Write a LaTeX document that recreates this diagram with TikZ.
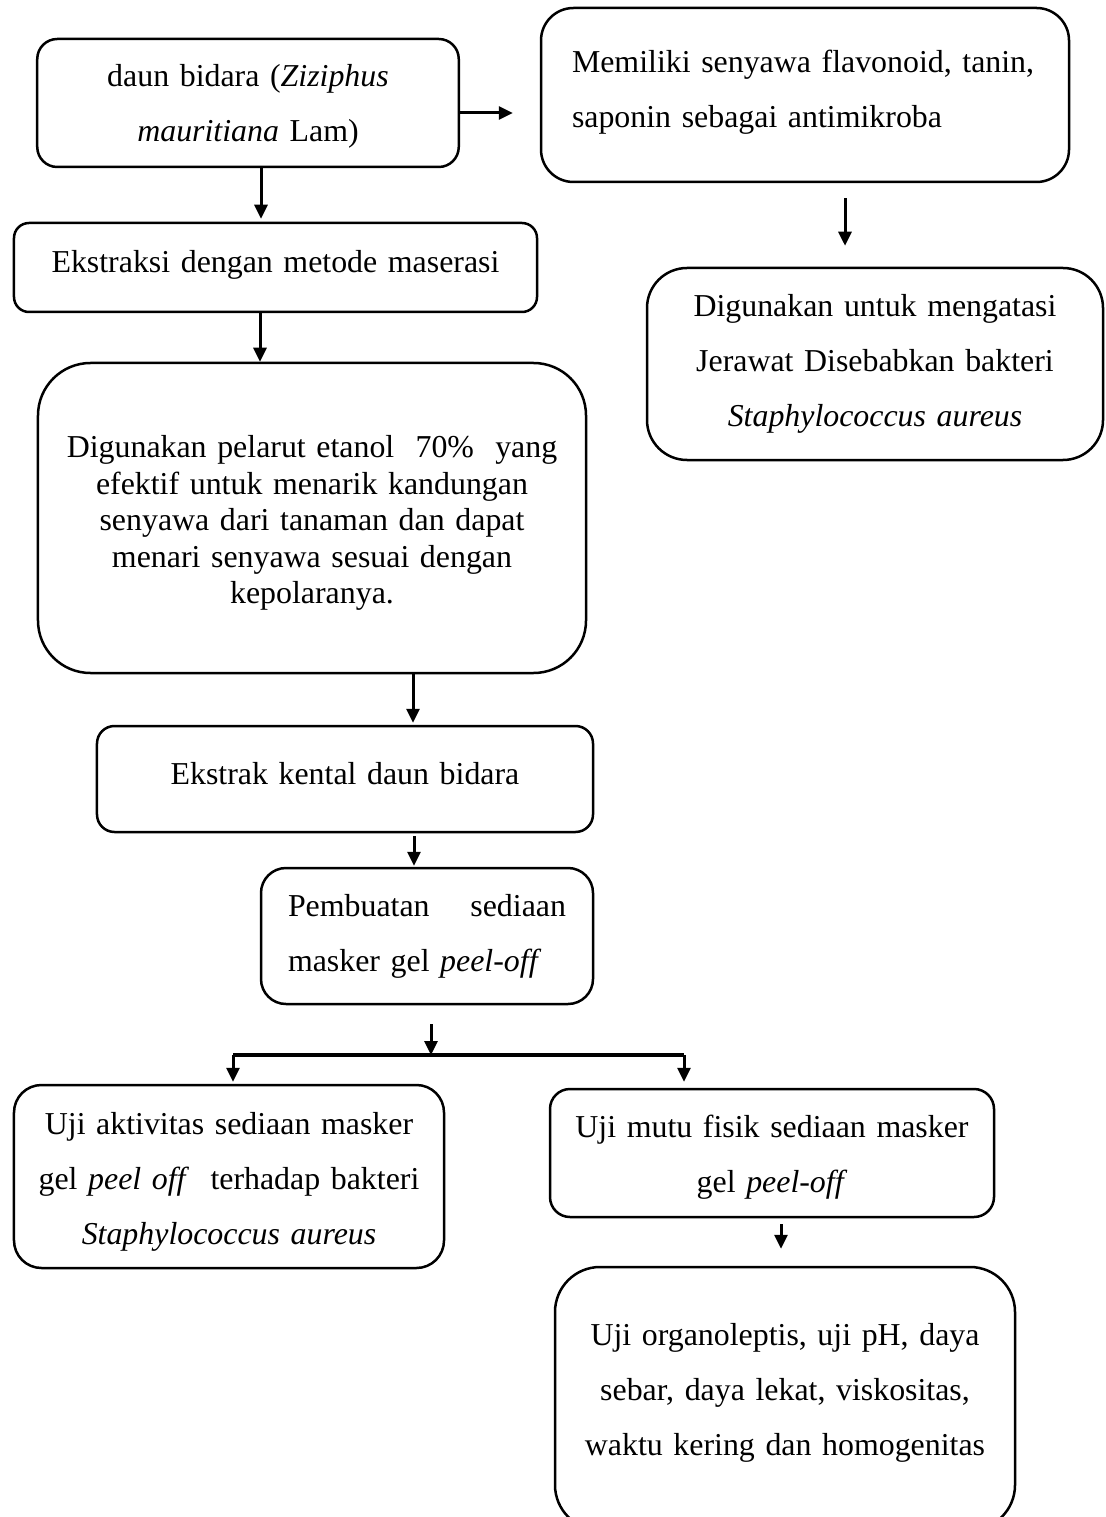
\documentclass[tikz,border=0pt]{standalone}
\usepackage{fontspec}
\setmainfont{Liberation Serif}
\usetikzlibrary{arrows.meta,calc}
\newcommand{\ruangbawah}[1]{\rule[-#1]{0pt}{#1}}
\newcommand{\ruangatas}[1]{\rule{0pt}{#1}}

\begin{document}
\begin{tikzpicture}[x=0.4pt, y=-0.4pt,
  kotak/.style={draw, line width=1pt, rounded corners=#1, align=center, inner xsep=4pt, inner ysep=0pt,
                font=\fontsize{12.75pt}{22pt}\selectfont},
  kotak/.default=8pt,
  panah/.style={line width=1.2pt, -{Triangle[length=5.6pt,width=5.2pt]}},
  garis/.style={line width=1.6pt}]
\useasboundingbox (0,0) rectangle (1105,1517);

% kolom kiri
\node[kotak=8pt, text width=160.6pt, minimum height=51.2pt] (daun) at (248,103)
  {\ruangatas{11.9pt}daun bidara (\textit{Ziziphus}\\ \textit{mauritiana} Lam)};
\node[kotak=6pt, text width=201.2pt, minimum height=35.6pt] (ekstraksi) at (275.5,267.5)
  {Ekstraksi dengan metode maserasi\ruangbawah{5.2pt}};
\node[kotak=21pt, text width=211.2pt, minimum height=124pt, font=\fontsize{12.75pt}{14.6pt}\selectfont] (pelarut) at (312,518)
  {\ruangatas{13pt}Digunakan pelarut etanol\ \ 70\%\ \ yang\\ efektif untuk menarik kandungan\\ senyawa dari tanaman dan dapat\\ menari senyawa sesuai dengan\\ kepolaranya.};
\node[kotak=7pt, text width=190.4pt, minimum height=42.4pt] (kental) at (345,779)
  {Ekstrak kental daun bidara\ruangbawah{4.8pt}};
\node[kotak=10pt, align=left, inner xsep=10.8pt, text width=111.2pt, minimum height=54.4pt] (pembuatan) at (427,936)
  {Pembuatan\hfill sediaan\\ masker gel \textit{peel-off}};

% kolom kanan
\node[kotak=13pt, align=left, inner xsep=12.4pt, text width=186.4pt, minimum height=69.6pt] (senyawa) at (805,95)
  {Memiliki senyawa flavonoid, tanin,\\ saponin sebagai antimikroba\ruangbawah{4.8pt}};
\node[kotak=16pt, text width=174.4pt, minimum height=76.8pt] (jerawat) at (875,364)
  {Digunakan untuk mengatasi\\ Jerawat Disebabkan bakteri\\ \textit{Staphylococcus aureus}};

% uji
\node[kotak=11pt, text width=164pt, minimum height=73.2pt] (aktivitas) at (229,1176.5)
  {\ruangatas{13.4pt}Uji aktivitas sediaan masker\\ gel \textit{peel off}\ \ terhadap bakteri\\ \textit{Staphylococcus aureus}};
\node[kotak=8pt, text width=169.6pt, minimum height=51.2pt] (mutu) at (772,1153)
  {\ruangatas{12.2pt}Uji mutu fisik sediaan masker\\ gel \textit{peel-off}};
\node[kotak=18pt, text width=176pt, minimum height=105.2pt] (organo) at (785,1398.5)
  {Uji organoleptis, uji pH, daya\\ sebar, daya lekat, viskositas,\\ waktu kering dan homogenitas\ruangbawah{7.6pt}};

\coordinate (kiri) at (233,1055);
\coordinate (tengah) at (431,1055);
\coordinate (kanan) at (684,1055);

% panah
\draw[panah, shorten >=10.8pt] ([yshift=-4pt]daun.east) -- ([yshift=-4pt]daun.east -| senyawa.west);
\draw[panah, shorten <=6pt, shorten >=8.4pt] ([xshift=16pt]senyawa.south) -- ([xshift=16pt]senyawa.south |- jerawat.north);
\draw[panah, shorten >=1.2pt] ([xshift=5.2pt]daun.south) -- ([xshift=5.2pt]daun.south |- ekstraksi.north);
\draw[panah] ([xshift=-6.2pt]ekstraksi.south) -- ([xshift=-6.2pt]ekstraksi.south |- pelarut.north);
\draw[panah, shorten >=0.8pt] ([xshift=40.4pt]pelarut.south) -- ([xshift=40.4pt]pelarut.south |- kental.north);
\draw[panah, shorten <=1.2pt, shorten >=0.4pt] ([xshift=27.6pt]kental.south) -- ([xshift=27.6pt]kental.south |- pembuatan.north);
\draw[panah, shorten <=7.6pt] (pembuatan.south -| tengah) -- (tengah);
\draw[garis] (kiri) -- (kanan);
\draw[panah, shorten >=0.8pt] (kiri) -- (kiri |- aktivitas.north);
\draw[panah, shorten >=2.4pt] (kanan) -- (kanan |- mutu.north);
\draw[panah, shorten <=2.4pt, shorten >=6.8pt] ([xshift=3.6pt]mutu.south) -- ([xshift=3.6pt]mutu.south |- organo.north);
\end{tikzpicture}
\end{document}
